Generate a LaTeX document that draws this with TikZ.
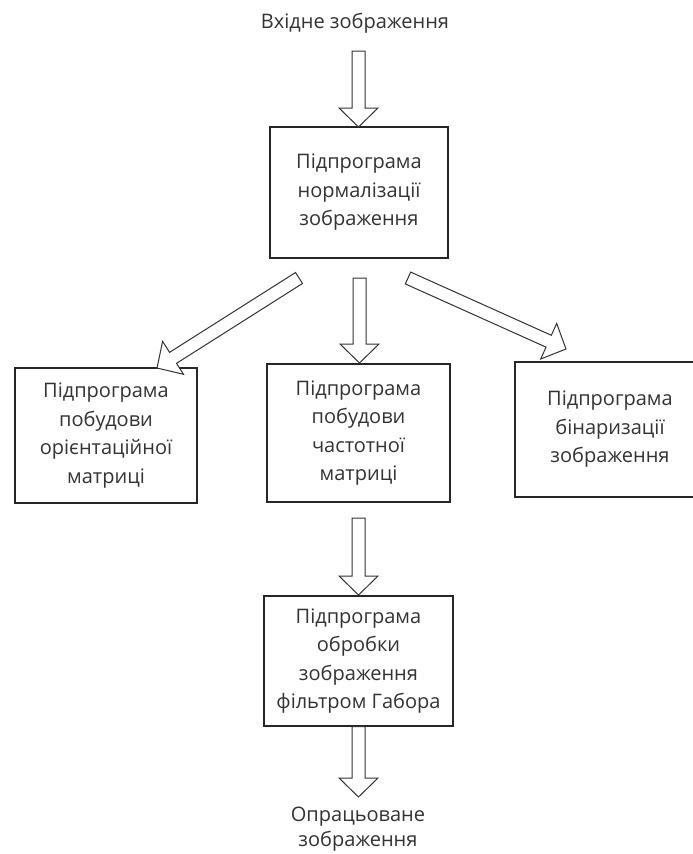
\documentclass[tikz,border=0pt]{standalone}
\usepackage{fontspec}
\setmainfont{Open Sans}
\usetikzlibrary{calc}

\tikzset{
  prog/.style={draw=black!85, line width=1.3pt, align=center, inner sep=0pt,
    font=\fontsize{20}{28.5}\selectfont, text=black!80},
  termtext/.style={align=center, font=\fontsize{20}{25}\selectfont, text=black!80},
  blockline/.style={draw=black!80, line width=1pt, fill=white, line join=miter}
}

% hollow block arrow from #1 to #2
\newcommand{\blockarrow}[2]{%
  \coordinate (h) at ($(#2)!19pt!(#1)$);
  \draw[blockline] ($(#1)!6.5pt!90:(#2)$) -- ($(h)!6.5pt!90:(#2)$)
    -- ($(h)!19.5pt!90:(#2)$) -- (#2) -- ($(h)!19.5pt!-90:(#2)$)
    -- ($(h)!6.5pt!-90:(#2)$) -- ($(#1)!6.5pt!-90:(#2)$) -- cycle;}

\begin{document}
\begin{tikzpicture}[x=1pt,y=-1pt]
\useasboundingbox (0,0) rectangle (693,854);
\clip (0,0) rectangle (693,854);

\node[termtext] (input) at (355,23) {Вхідне зображення};
\node[prog, minimum width=178, minimum height=131] (norm) at (359,192.5)
  {Підпрограма\\нормалізації\\зображення};
\node[prog, minimum width=182, minimum height=135] (orient) at (106,435.5)
  {Підпрограма\\побудови\\орієнтаційної\\матриці};
\node[prog, minimum width=183, minimum height=138] (freq) at (358.5,433)
  {Підпрограма\\побудови\\частотної\\матриці};
\node[prog, minimum width=190, minimum height=135] (binar) at (610,429.5)
  {Підпрограма\\бінаризації\\зображення};
\node[prog, minimum width=189, minimum height=130] (gabor) at (358.5,661)
  {Підпрограма\\обробки\\зображення\\фільтром Габора};
\node[termtext] (output) at (358,829) {Опрацьоване\\зображення};

% arrow ends
\coordinate (in0) at (358.5,51);
\coordinate (in1) at (358.5,127);
\coordinate (c0) at (359.5,278);
\coordinate (c1) at (359.5,363);
\coordinate (l0) at (299,278);
\coordinate (l1) at (157,368);
\coordinate (r0) at (408,278);
\coordinate (r1) at (566,349);
\coordinate (g0) at (358.5,518);
\coordinate (g1) at (358.5,595);
\coordinate (o0) at (358.5,726.5);
\coordinate (o1) at (358.5,797);

\blockarrow{in0}{in1}
\blockarrow{c0}{c1}
\blockarrow{l0}{l1}
\blockarrow{r0}{r1}
\blockarrow{g0}{g1}
\blockarrow{o0}{o1}
\end{tikzpicture}
\end{document}
